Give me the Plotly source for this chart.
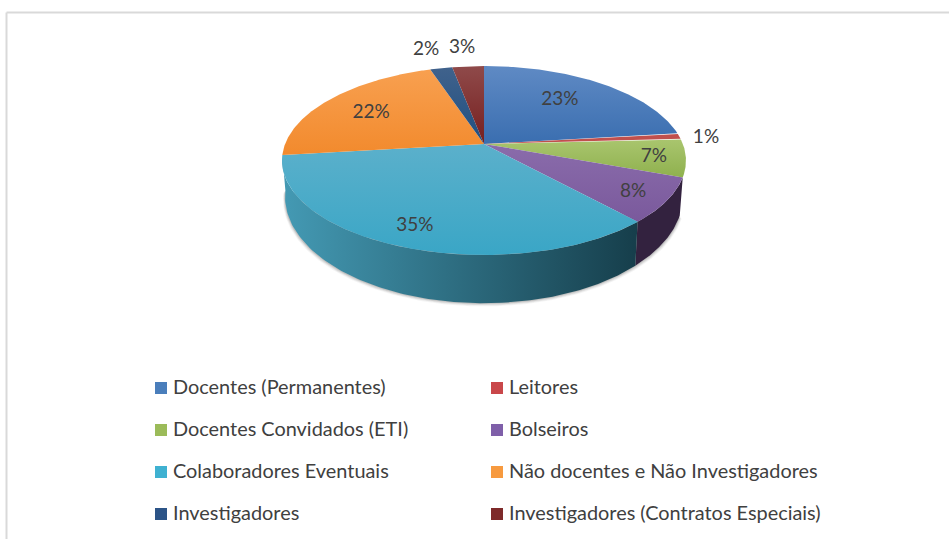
import numpy as np
import plotly.graph_objects as go

categories = ["Docentes (Permanentes)", "Leitores", "Docentes Convidados (ETI)", "Bolseiros",
              "Colaboradores Eventuais", "Não docentes e Não Investigadores",
              "Investigadores", "Investigadores (Contratos Especiais)"]
values = [23.1, 1.0, 6.5, 7.7, 34.9, 21.8, 2.1, 3.0]
pct_labels = ["23%", "1%", "7%", "8%", "35%", "22%", "2%", "3%"]

# styles
top_light = ["#5f8ac4", "#c0504d", "#a9c56e", "#8a6cab", "#5bb0cb", "#f8a050", "#40628c", "#8f4a4a"]
top_dark = ["#3a6eb0", "#c0504d", "#8fb14e", "#7a599c", "#3aa6c6", "#f28a2d", "#1f4f80", "#761f1f"]
wall_left = ["#2b4a70", "#6b2a28", "#4c5f2a", "#33223f", "#449ab4", "#c06a20", "#1f3a5c", "#5a1a1a"]
wall_right = ["#2b4a70", "#6b2a28", "#4c5f2a", "#33223f", "#163e4b", "#c06a20", "#1f3a5c", "#5a1a1a"]
legend_colors = ["#4a7ebb", "#c9474a", "#9bbb59", "#7f5fa9", "#3fb1d1", "#f79a3f", "#2c5487", "#7e2a2a"]
# label placement: (angle in degrees clockwise from the top, radial fraction)
label_angle = [37.3, 85.5, 98.0, 123.8, 201.7, 302.4, 344.5, 354.1]
label_radius = [0.69, 1.137, 0.845, 0.83, 0.816, 0.717, 1.332, 1.322]

W, H = 949, 539
CX, CY = 484.0, 144.0
K, C, D = 91.6, 0.1746, 198.9
TXT = "#404040"
FONT = "Lato"


def project(theta, r=1.0):
    u, v = r * np.sin(theta), r * np.cos(theta)
    return CX + D * u / (1 + C * v), CY - K * v / (1 + C * v)


def lower(x, y):
    return CX + (x - CX) * 0.985, 161 + (y - 161) * 1.13 + 36


fig = go.Figure()
total = sum(values)
edges = np.cumsum([0] + values) / total * 2 * np.pi
front_a, front_b = edges[3], edges[5]

# soft shadow under the wall
full = np.linspace(front_a, front_b, 200)
sx, sy = lower(*project(full))
for grow, alpha in [(4, 0.05), (3, 0.07), (2, 0.10), (1, 0.14)]:
    fig.add_trace(go.Scatter(x=CX + (sx - CX) * (1 + grow / 400), y=sy + grow * 0.8, mode="lines",
                             fill="toself", fillcolor=f"rgba(60,60,60,{alpha})",
                             line=dict(width=0), hoverinfo="skip", showlegend=False))

# side walls
for i in range(len(values)):
    a, b = max(edges[i], front_a), min(edges[i + 1], front_b)
    if b <= a:
        continue
    t = np.linspace(a, b, 120)
    rx, ry = project(t)
    bx, by = lower(rx, ry)
    fig.add_trace(go.Scatter(
        x=np.r_[rx, bx[::-1]], y=np.r_[ry, by[::-1]], mode="lines", fill="toself",
        fillgradient=dict(type="horizontal", colorscale=[[0, wall_left[i]], [1, wall_right[i]]]),
        line=dict(width=0), hoverinfo="skip", showlegend=False))

# top faces (colorscale runs along the reversed y axis)
for i in range(len(values)):
    t = np.linspace(edges[i], edges[i + 1], 160)
    rx, ry = project(t)
    fig.add_trace(go.Scatter(
        x=np.r_[CX, rx, CX], y=np.r_[CY, ry, CY], mode="lines", fill="toself",
        fillgradient=dict(type="vertical", colorscale=[[0, top_dark[i]], [1, top_light[i]]]),
        line=dict(width=0), name=categories[i], hoverinfo="skip", showlegend=False))

# percentage labels
lx, ly = project(np.radians(label_angle), np.array(label_radius))
fig.add_trace(go.Scatter(x=lx, y=ly + 2, mode="text", text=pct_labels,
                         textfont=dict(family=FONT, size=19, color=TXT),
                         textposition="middle center", hoverinfo="skip", showlegend=False))

# legend, two columns, four rows
col_x = [161, 497]
row_y = [387, 429, 471, 513]
lgx = [col_x[i % 2] for i in range(len(categories))]
lgy = [row_y[i // 2] for i in range(len(categories))]
fig.add_trace(go.Scatter(x=lgx, y=[v + 1 for v in lgy], mode="markers",
                         marker=dict(symbol="square", size=12, color=legend_colors, line=dict(width=0)),
                         hoverinfo="skip", showlegend=False))
fig.add_trace(go.Scatter(x=[v + 12 for v in lgx], y=[v + 2 for v in lgy], mode="text", text=categories,
                         textposition="middle right",
                         textfont=dict(family=FONT, size=19.9, color=TXT),
                         hoverinfo="skip", showlegend=False))

fig.update_layout(
    width=W, height=H, autosize=False,
    margin=dict(l=0, r=0, t=0, b=0),
    paper_bgcolor="white", plot_bgcolor="white",
    xaxis=dict(range=[0, W], visible=False, fixedrange=True),
    yaxis=dict(range=[H, 0], visible=False, fixedrange=True),
    shapes=[
        dict(type="line", xref="x", yref="y", x0=6.5, x1=W, y0=12.5, y1=12.5, line=dict(color="#d9d9d9", width=2)),
        dict(type="line", xref="x", yref="y", x0=6.5, x1=6.5, y0=12.5, y1=H, line=dict(color="#d9d9d9", width=2)),
    ],
)
fig.write_html("out.html", config={"displayModeBar": False, "responsive": False},
               post_script="document.body.style.margin='0';document.documentElement.style.overflow='hidden';")
